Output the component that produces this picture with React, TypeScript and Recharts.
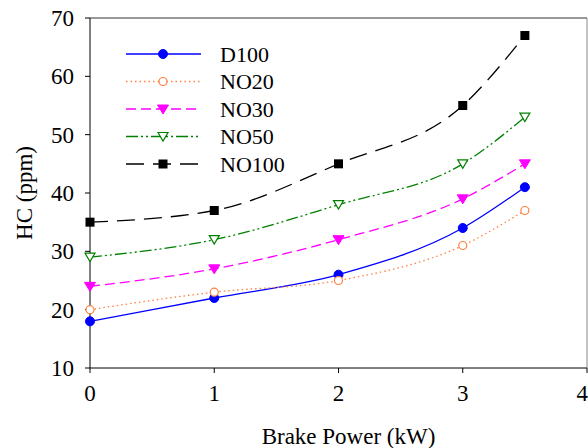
import { LineChart, Line, XAxis, YAxis, ReferenceLine, Legend, Label } from 'recharts'

const brakePower = [0, 1, 2, 3, 3.5]
const d100 = [18, 22, 26, 34, 41]
const no20 = [20, 23, 25, 31, 37]
const no30 = [24, 27, 32, 39, 45]
const no50 = [29, 32, 38, 45, 53]
const no100 = [35, 37, 45, 55, 67]
const xTicks = [0, 1, 2, 3, 4]
const yTicks = [10, 20, 30, 40, 50, 60, 70]

const data = brakePower.map((bp, i) => ({
  bp,
  D100: d100[i],
  NO20: no20[i],
  NO30: no30[i],
  NO50: no50[i],
  NO100: no100[i],
}))

type MarkerKind = 'dot' | 'ring' | 'triDown' | 'triDownOpen' | 'square'

interface SeriesDef {
  key: string
  color: string
  dash?: string
  marker: MarkerKind
}

const series: SeriesDef[] = [
  { key: 'D100', color: '#0000ff', marker: 'dot' },
  { key: 'NO20', color: '#ff8040', dash: '1.5 3', marker: 'ring' },
  { key: 'NO30', color: '#ff00ff', dash: '10 5', marker: 'triDown' },
  { key: 'NO50', color: '#008000', dash: '12 3 2 3 2 3', marker: 'triDownOpen' },
  { key: 'NO100', color: '#000000', dash: '18 9', marker: 'square' },
]

const FONT = '"Liberation Serif", "Times New Roman", serif'

function Marker({ cx, cy, kind, color }: { cx: number; cy: number; kind: MarkerKind; color: string }) {
  if (cx == null || cy == null) return null
  switch (kind) {
    case 'dot':
      return <circle cx={cx} cy={cy} r={4.5} fill={color} stroke={color} />
    case 'ring':
      return <circle cx={cx} cy={cy} r={4} fill="#fff" stroke={color} strokeWidth={1.2} />
    case 'triDown':
      return <path d={`M${cx - 5.5},${cy - 4} L${cx + 5.5},${cy - 4} L${cx},${cy + 5} Z`} fill={color} stroke={color} />
    case 'triDownOpen':
      return (
        <path d={`M${cx - 5},${cy - 4} L${cx + 5},${cy - 4} L${cx},${cy + 4.5} Z`} fill="#fff" stroke={color} strokeWidth={1.2} />
      )
    case 'square':
      return <rect x={cx - 4.5} y={cy - 4.5} width={9} height={9} fill={color} />
  }
}

function LegendBox() {
  return (
    <svg width={220} height={150}>
      {series.map((s, i) => {
        const y = 14 + i * 27.5
        return (
          <g key={s.key}>
            <line x1={6} x2={81} y1={y} y2={y} stroke={s.color} strokeWidth={1.3} strokeDasharray={s.dash} />
            <Marker cx={43} cy={y} kind={s.marker} color={s.color} />
            <text x={100} y={y} dominantBaseline="central" fontFamily={FONT} fontSize={22} fill="#000">
              {s.key}
            </text>
          </g>
        )
      })}
    </svg>
  )
}

export default function App() {
  return (
    <div style={{ position: 'absolute', left: 0, top: 0, width: 588, height: 448, background: '#fff' }}>
      <LineChart width={588} height={448} data={data} margin={{ top: 18, right: 1, bottom: 0, left: 0 }}>
        <XAxis
          dataKey="bp"
          type="number"
          domain={[0, 4]}
          ticks={xTicks}
          tickSize={5}
          tickMargin={12}
          height={80}
          stroke="#000"
          tick={{ fill: '#000', fontFamily: FONT, fontSize: 23 }}
        >
          <Label
            value="Brake Power (kW)"
            position="insideBottom"
            offset={4}
            dx={10}
            style={{ fill: '#000', fontFamily: FONT, fontSize: 23 }}
          />
        </XAxis>
        <YAxis
          type="number"
          domain={[10, 70]}
          ticks={yTicks}
          tickSize={5}
          tickMargin={11}
          width={90}
          stroke="#000"
          tick={{ fill: '#000', fontFamily: FONT, fontSize: 23 }}
        >
          <Label
            content={({ viewBox }: any) => {
              const cy = viewBox.y + viewBox.height / 2
              return (
                <text
                  transform={`translate(24, ${cy}) rotate(-90)`}
                  textAnchor="middle"
                  dominantBaseline="central"
                  fontFamily={FONT}
                  fontSize={23}
                  fill="#000"
                >
                  HC (ppm)
                </text>
              )
            }}
          />
        </YAxis>
        <ReferenceLine y={70} stroke="#333" strokeWidth={1} />
        <ReferenceLine x={4} stroke="#888" strokeWidth={1} />
        {series.map((s) => (
          <Line
            key={s.key}
            dataKey={s.key}
            type="monotone"
            stroke={s.color}
            strokeWidth={1.3}
            strokeDasharray={s.dash}
            isAnimationActive={false}
            dot={(p: any) => (
              <Marker key={`${s.key}-${p.index}`} cx={p.cx} cy={p.cy} kind={s.marker} color={s.color} />
            )}
            activeDot={false}
          />
        ))}
        <Legend
          layout="vertical"
          align="center"
          verticalAlign="middle"
          wrapperStyle={{ left: 120, top: 40, width: 220 }}
          content={() => <LegendBox />}
        />
      </LineChart>
    </div>
  )
}
